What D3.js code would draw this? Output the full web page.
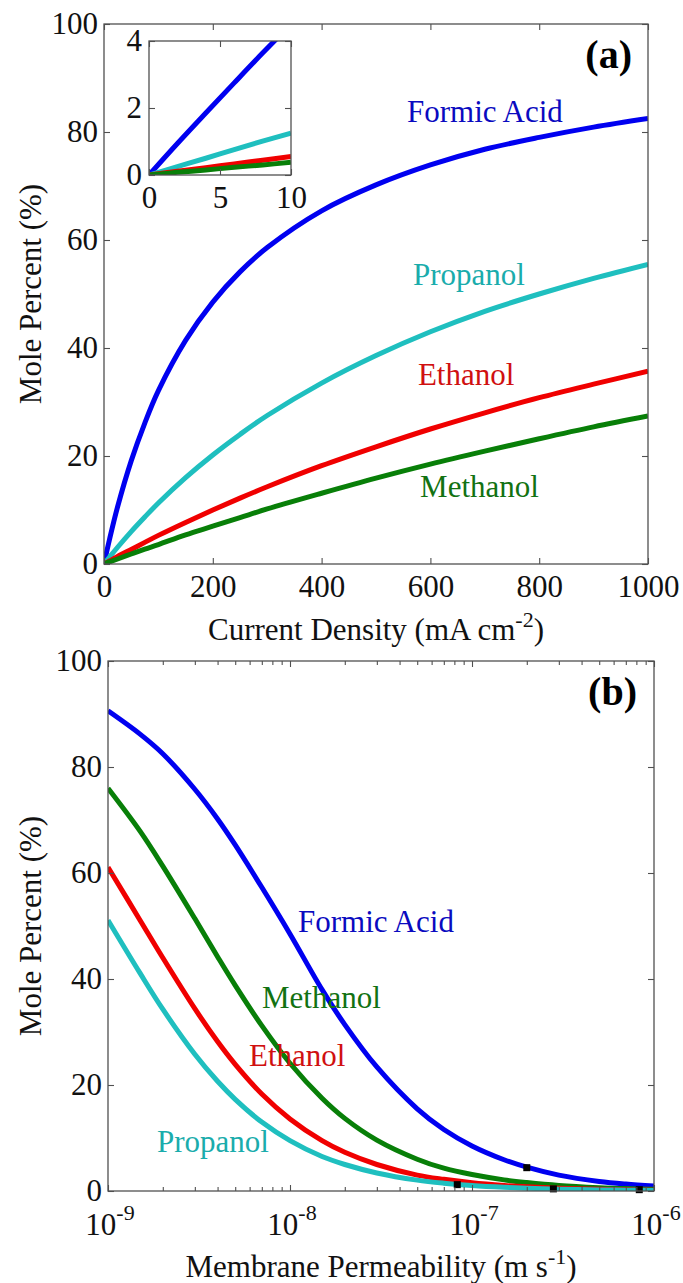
<!DOCTYPE html>
<html>
<head>
<meta charset="utf-8">
<script src="https://cdn.jsdelivr.net/npm/d3@7/dist/d3.min.js"></script>
<style>
  html, body { margin: 0; padding: 0; background: #fff; }
  svg { display: block; }
  text { font-family: "Liberation Serif", "Times New Roman", serif; }
</style>
</head>
<body>
<div id="chart"></div>
<script>
// ---------- Panel (a) data ----------
const currentDensity = [0, 10, 25, 50, 75, 100, 150, 200, 250, 300, 400, 500, 600, 700, 800, 900, 1000];
const formicA   = [0, 4.5, 10.6, 19.1, 26.1, 32.1, 41.4, 48.5, 54.1, 58.6, 65.4, 70.2, 73.9, 76.8, 79.0, 80.9, 82.5];
const propanolA = [0, 1.25, 3.1, 6.0, 8.7, 11.3, 16.0, 20.2, 24.0, 27.5, 33.5, 38.6, 43.0, 46.8, 50.0, 52.9, 55.5];
const ethanolA  = [0, 0.55, 1.4, 2.7, 4.0, 5.3, 7.7, 10.0, 12.2, 14.3, 18.2, 21.7, 25.0, 28.0, 30.8, 33.3, 35.7];
const methanolA = [0, 0.38, 0.93, 1.85, 2.75, 3.6, 5.4, 7.0, 8.6, 10.2, 13.1, 15.9, 18.5, 20.9, 23.2, 25.4, 27.4];

// Inset (zoom of low current density)
const insetX        = [0, 2, 4, 6, 8, 10];
const insetFormic   = [0, 0.94, 1.85, 2.75, 3.64, 4.5];
const insetPropanol = [0, 0.25, 0.50, 0.76, 1.01, 1.25];
const insetEthanol  = [0, 0.11, 0.22, 0.33, 0.44, 0.55];
const insetMethanol = [0, 0.08, 0.15, 0.23, 0.30, 0.38];

const xTicksA = [0, 200, 400, 600, 800, 1000];
const yTicks  = [0, 20, 40, 60, 80, 100];
const insetXTicks = [0, 5, 10];
const insetYTicks = [0, 2, 4];

// ---------- Panel (b) data ----------
const permeability = [1e-9, 1.5e-9, 2e-9, 3e-9, 4e-9, 5e-9, 7e-9, 1e-8, 1.5e-8, 2e-8, 3e-8, 5e-8, 7e-8, 1e-7, 1.5e-7, 2e-7, 3e-7, 5e-7, 7e-7, 1e-6];
const formicB   = [90.6, 86.2, 82.5, 75.8, 70.2, 65.3, 57.3, 48.5, 38.0, 31.4, 23.4, 15.5, 11.6, 8.5, 5.9, 4.5, 3.0, 1.8, 1.3, 0.93];
const methanolB = [76.0, 67.9, 61.3, 51.4, 44.2, 38.8, 31.2, 24.1, 17.5, 13.7, 9.6, 6.0, 4.3, 3.1, 2.1, 1.6, 1.05, 0.63, 0.45, 0.32];
const ethanolB  = [61.1, 51.1, 44.0, 34.4, 28.2, 23.9, 18.3, 13.6, 9.5, 7.3, 5.0, 3.0, 2.2, 1.55, 1.04, 0.78, 0.52, 0.31, 0.22, 0.16];
const propanolB = [51.1, 41.1, 34.3, 25.8, 20.7, 17.3, 13.0, 9.5, 6.5, 5.0, 3.4, 2.05, 1.47, 1.03, 0.69, 0.52, 0.35, 0.21, 0.15, 0.10];

const markerP   = [8.3e-8, 2.0e-7, 2.8e-7, 8.3e-7];
const markerPct = [1.2, 4.4, 0.4, 0.25];

const xTicksB   = [1e-9, 1e-8, 1e-7, 1e-6];
const xTickExpB = ["-9", "-8", "-7", "-6"];

// ---------- styles ----------
const C = { formic: "#0000f0", propanol: "#1fbfbf", ethanol: "#f00000", methanol: "#087f08" };
const T = { formic: "#0a0ac0", propanol: "#1aacac", ethanol: "#d01010", methanol: "#127212" };
const FS = 31;
const LW = 5;
const FONT = "'Liberation Serif', 'Times New Roman', serif";
const axisColor = "#505050";

const W = 683, H = 1283;
const svg = d3.select("#chart").append("svg").attr("width", W).attr("height", H)
  .attr("font-family", FONT);
svg.append("rect").attr("width", W).attr("height", H).attr("fill", "#fff");

function styleAxis(g) {
  g.attr("font-family", null).attr("font-size", null);
  g.select(".domain").remove();
  g.selectAll(".tick line").attr("stroke", axisColor).attr("stroke-width", 1.1);
  g.selectAll(".tick text").attr("font-family", FONT).attr("font-size", FS).attr("fill", "#111");
}

function frame(x, y, xTicks, yTicksV, opts) {
  const [x0, x1] = x.range(), [y0, y1] = y.range();
  const g = svg.append("g");
  const fmtX = opts.xFormat || (d => d);
  g.append("g").attr("transform", `translate(0,${y0})`)
    .call(d3.axisBottom(x).tickValues(xTicks).tickSize(-6).tickSizeOuter(0).tickPadding(opts.xPad).tickFormat(fmtX))
    .call(styleAxis);
  g.append("g").attr("transform", `translate(0,${y1})`)
    .call(d3.axisTop(x).tickValues(xTicks).tickSize(-6).tickSizeOuter(0).tickFormat(""))
    .call(styleAxis);
  g.append("g").attr("transform", `translate(${x0},0)`)
    .call(d3.axisLeft(y).tickValues(yTicksV).tickSize(-6).tickSizeOuter(0).tickPadding(opts.yPad).tickFormat(d => d))
    .call(styleAxis);
  g.append("g").attr("transform", `translate(${x1},0)`)
    .call(d3.axisRight(y).tickValues(yTicksV).tickSize(-6).tickSizeOuter(0).tickFormat(""))
    .call(styleAxis);
  g.append("rect").attr("x", x0).attr("y", y1).attr("width", x1 - x0).attr("height", y0 - y1)
    .attr("fill", "none").attr("stroke", axisColor).attr("stroke-width", 1.3);
  return g;
}

function clip(id, x, y) {
  const [x0, x1] = x.range(), [y0, y1] = y.range();
  svg.append("clipPath").attr("id", id).append("rect")
    .attr("x", x0).attr("y", y1).attr("width", x1 - x0).attr("height", y0 - y1);
}

function series(xs, ys, x, y, color, clipId, width) {
  const line = d3.line().x(d => x(d[0])).y(d => y(d[1])).curve(d3.curveCatmullRom.alpha(0.5));
  svg.append("path").datum(xs.map((v, i) => [v, ys[i]]))
    .attr("d", line).attr("fill", "none").attr("stroke", color)
    .attr("stroke-width", width).attr("clip-path", `url(#${clipId})`);
}

function label(txt, px, py, color, size) {
  svg.append("text").attr("x", px).attr("y", py).attr("fill", color)
    .attr("font-size", size || FS).text(txt);
}

// ================= Panel (a) =================
const xA = d3.scaleLinear().domain([0, 1000]).range([104, 648]);
const yA = d3.scaleLinear().domain([0, 100]).range([564, 24]);
clip("clipA", xA, yA);
series(currentDensity, formicA, xA, yA, C.formic, "clipA", LW);
series(currentDensity, propanolA, xA, yA, C.propanol, "clipA", LW);
series(currentDensity, ethanolA, xA, yA, C.ethanol, "clipA", LW);
series(currentDensity, methanolA, xA, yA, C.methanol, "clipA", LW);
frame(xA, yA, xTicksA, yTicks, { xPad: 11, yPad: 6 });

label("Formic Acid", xA(557), yA(81.9), T.formic);
label("Propanol", xA(568), yA(51.7), T.propanol);
label("Ethanol", xA(577), yA(33.1), T.ethanol);
label("Methanol", xA(581), yA(12.4), T.methanol);
svg.append("text").attr("x", 632).attr("y", 68).attr("text-anchor", "end")
  .attr("font-size", 40).attr("font-weight", "bold").attr("fill", "#000").text("(a)");

{
  const t = svg.append("text").attr("x", (104 + 648) / 2).attr("y", 640)
    .attr("text-anchor", "middle").attr("font-size", FS).attr("fill", "#111");
  t.append("tspan").text("Current Density (mA cm");
  t.append("tspan").attr("dy", -13).attr("font-size", 22).text("-2");
  t.append("tspan").attr("dy", 13).text(")");
}
svg.append("text").attr("transform", `translate(41,${(24 + 564) / 2}) rotate(-90)`)
  .attr("text-anchor", "middle").attr("font-size", FS).attr("fill", "#111").text("Mole Percent (%)");

// Inset
const xI = d3.scaleLinear().domain([0, 10]).range([149, 291]);
const yI = d3.scaleLinear().domain([0, 4]).range([175, 41]);
svg.append("rect").attr("x", 149).attr("y", 41).attr("width", 142).attr("height", 134).attr("fill", "#fff");
clip("clipI", xI, yI);
series(insetX, insetFormic, xI, yI, C.formic, "clipI", LW);
series(insetX, insetPropanol, xI, yI, C.propanol, "clipI", LW);
series(insetX, insetEthanol, xI, yI, C.ethanol, "clipI", LW);
series(insetX, insetMethanol, xI, yI, C.methanol, "clipI", LW);
frame(xI, yI, insetXTicks, insetYTicks, { xPad: 11, yPad: 7 });

// ================= Panel (b) =================
const xB = d3.scaleLog().domain([1e-9, 1e-6]).range([108, 654]);
const yB = d3.scaleLinear().domain([0, 100]).range([1191, 661]);
clip("clipB", xB, yB);
series(permeability, formicB, xB, yB, C.formic, "clipB", LW);
series(permeability, methanolB, xB, yB, C.methanol, "clipB", LW);
series(permeability, ethanolB, xB, yB, C.ethanol, "clipB", LW);
series(permeability, propanolB, xB, yB, C.propanol, "clipB", LW);

svg.append("g").selectAll("rect").data(markerP.map((p, i) => [p, markerPct[i]])).join("rect")
  .attr("x", d => xB(d[0]) - 3.5).attr("y", d => yB(d[1]) - 3.5)
  .attr("width", 7).attr("height", 7).attr("fill", "#000");

const gB = frame(xB, yB, xTicksB, yTicks, { xPad: 11, yPad: 6, xFormat: () => "" });
const minorB = xB.ticks().filter(v => !xTicksB.some(m => Math.abs(m - v) / m < 1e-6));
gB.append("g").attr("transform", `translate(0,${yB.range()[0]})`)
  .call(d3.axisBottom(xB).tickValues(minorB).tickSize(-4).tickSizeOuter(0).tickFormat(""))
  .call(styleAxis);
gB.append("g").attr("transform", `translate(0,${yB.range()[1]})`)
  .call(d3.axisTop(xB).tickValues(minorB).tickSize(-4).tickSizeOuter(0).tickFormat(""))
  .call(styleAxis);

xTicksB.forEach((v, i) => {
  const t = svg.append("text").attr("x", xB(v) + 2).attr("y", 1235)
    .attr("text-anchor", "middle").attr("font-size", FS).attr("fill", "#111");
  t.append("tspan").text("10");
  t.append("tspan").attr("dy", -15).attr("font-size", 22).text(xTickExpB[i]);
});

label("Formic Acid", xB(1.107e-8), yB(48.9), T.formic);
label("Methanol", xB(7.02e-9), yB(34.5), T.methanol);
label("Ethanol", xB(5.95e-9), yB(23.5), T.ethanol);
label("Propanol", xB(1.86e-9), yB(7.4), T.propanol);
svg.append("text").attr("x", 637).attr("y", 705).attr("text-anchor", "end")
  .attr("font-size", 40).attr("font-weight", "bold").attr("fill", "#000").text("(b)");

{
  const t = svg.append("text").attr("x", (108 + 654) / 2).attr("y", 1277)
    .attr("text-anchor", "middle").attr("font-size", FS).attr("fill", "#111");
  t.append("tspan").text("Membrane Permeability (m s");
  t.append("tspan").attr("dy", -13).attr("font-size", 22).text("-1");
  t.append("tspan").attr("dy", 13).text(")");
}
svg.append("text").attr("transform", `translate(41,${(661 + 1191) / 2}) rotate(-90)`)
  .attr("text-anchor", "middle").attr("font-size", FS).attr("fill", "#111").text("Mole Percent (%)");
</script>
</body>
</html>
